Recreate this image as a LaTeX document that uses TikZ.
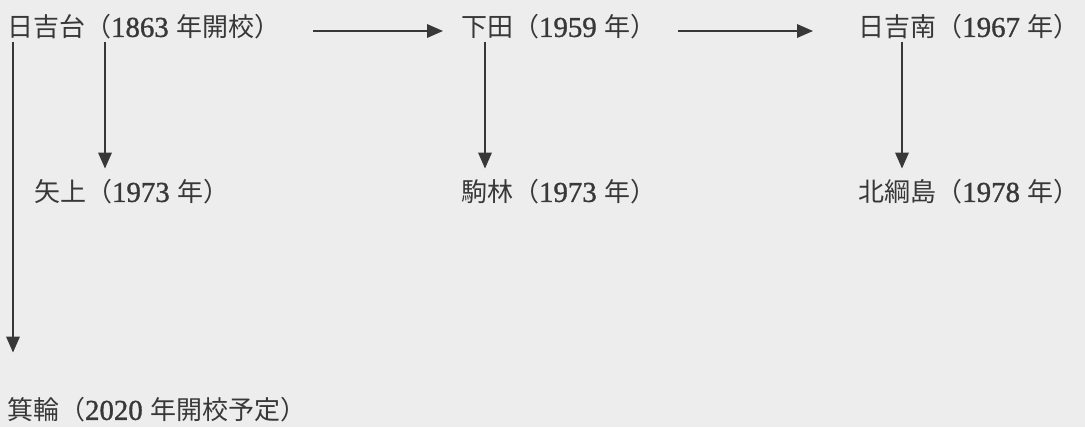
\documentclass[tikz,border=0pt]{standalone}
\usepackage{fontspec}
\newfontfamily\jp{Noto Sans CJK JP}
\newfontfamily\num[FakeBold=1.2]{Liberation Serif}
\usetikzlibrary{arrows.meta}
\definecolor{ink}{HTML}{383838}
\definecolor{paper}{HTML}{EDEDED}
% 校舎名（年）
\newcommand{\kou}[3]{{\jp #1（}{\num\fontsize{20.5}{22}\selectfont #2}\hspace{0.3em}{\jp #3）}}

\begin{document}
\begin{tikzpicture}[
  campus/.style={anchor=west, inner xsep=0pt, inner ysep=2pt, text=ink, font=\fontsize{18.5}{22}\selectfont},
  arr/.style={draw=ink, line width=1.1pt, -{Triangle[length=4mm, width=3.4mm]}}
]

  % 背景
  \fill [paper] (0,0) rectangle (27.125,-10.675);
  \useasboundingbox (0,0) rectangle (27.125,-10.675);

  % 1段目
  \node [campus] (hiyoshidai) at (0.17,-0.675) {\kou{日吉台}{1863}{年開校}};
  \node [campus] (shimoda) at (11.52,-0.675) {\kou{下田}{1959}{年}};
  \node [campus] (minami) at (21.45,-0.675) {\kou{日吉南}{1967}{年}};

  % 2段目
  \node [campus] (yagami) at (0.845,-4.8) {\kou{矢上}{1973}{年}};
  \node [campus] (komabayashi) at (11.52,-4.8) {\kou{駒林}{1973}{年}};
  \node [campus] (kitatsuna) at (21.45,-4.8) {\kou{北綱島}{1978}{年}};

  % 3段目
  \node [campus] (minowa) at (0.17,-10.25) {\kou{箕輪}{2020}{年開校予定}};

  % 横の矢印
  \draw [arr] ([yshift=-1mm]hiyoshidai.east -| 7.825,0) -- ([yshift=-1mm]shimoda.west -| 11.075,0);
  \draw [arr] ([yshift=-1mm]shimoda.east -| 16.95,0) -- ([yshift=-1mm]minami.west -| 20.325,0);

  % 縦の矢印
  \draw [arr, shorten >=1.05cm] (hiyoshidai.south -| 0.325,0) -- (minowa.north -| 0.325,0);
  \draw [arr, shorten >=0.2cm] (hiyoshidai.south -| 2.625,0) -- (yagami.north -| 2.625,0);
  \draw [arr, shorten >=0.2cm] (shimoda.south -| 12.125,0) -- (komabayashi.north -| 12.125,0);
  \draw [arr, shorten >=0.2cm] (minami.south -| 22.55,0) -- (kitatsuna.north -| 22.55,0);

\end{tikzpicture}
\end{document}
